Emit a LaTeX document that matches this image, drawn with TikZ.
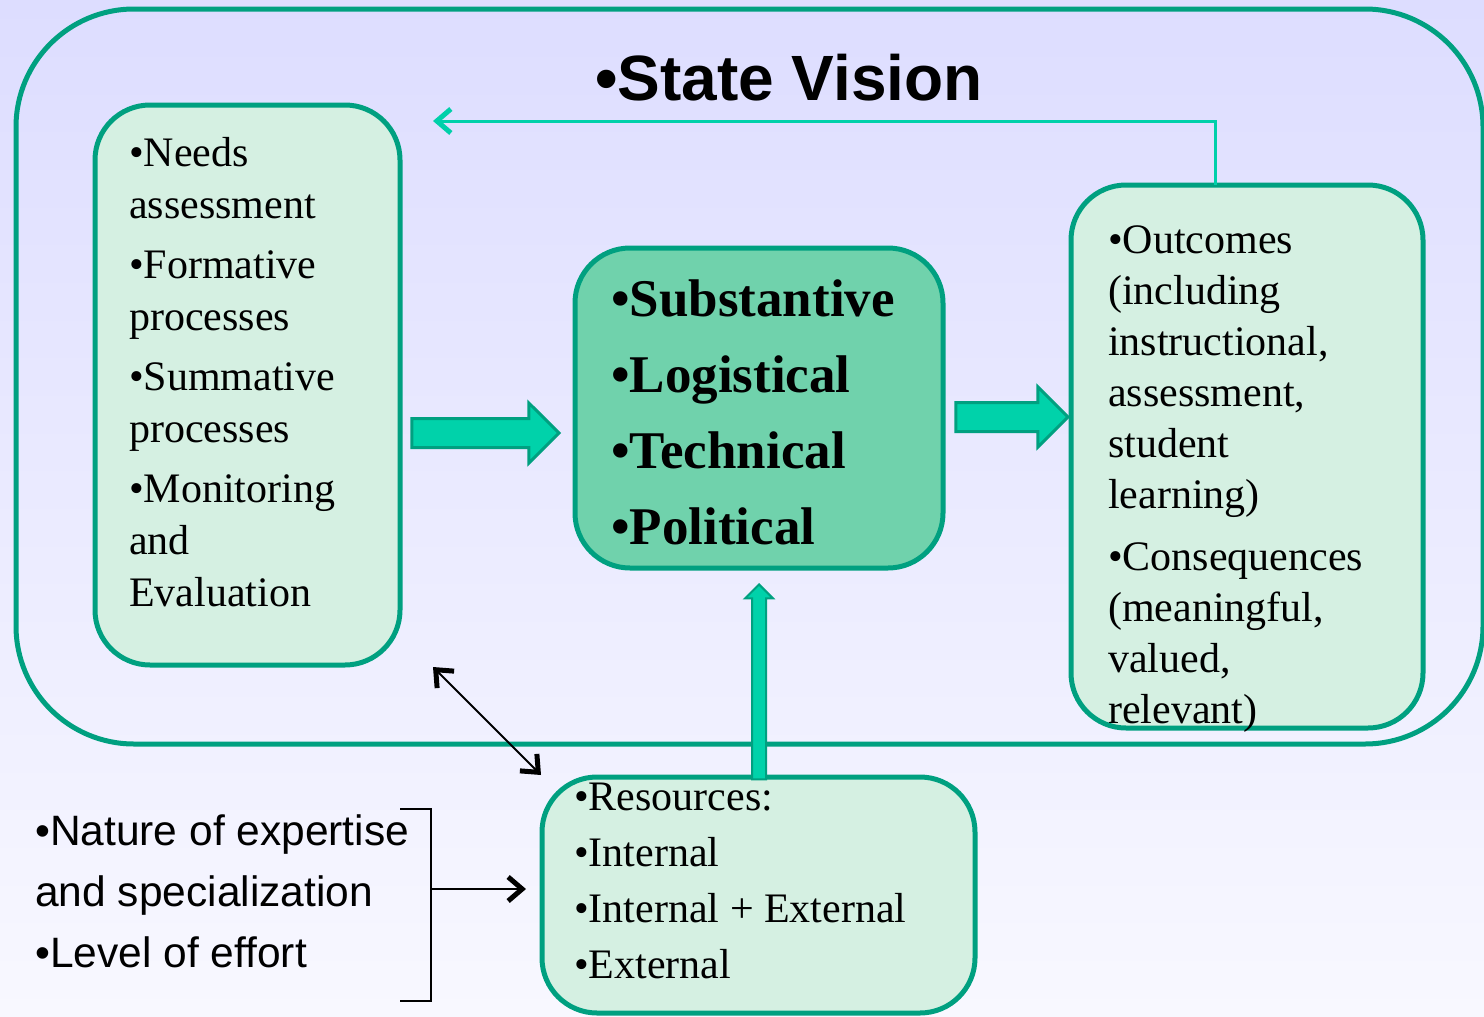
\documentclass[tikz,border=0pt]{standalone}
\usepackage{fontspec}
\setmainfont{Liberation Serif}
\setsansfont{Liberation Sans}
\usetikzlibrary{arrows.meta,shapes.arrows}

\definecolor{rimgreen}{RGB}{0,160,128}
\definecolor{panelfill}{RGB}{213,240,226}
\definecolor{corefill}{RGB}{112,210,172}
\definecolor{arrowfill}{RGB}{0,210,170}
\definecolor{feedcol}{RGB}{0,208,170}
\definecolor{bgtop}{RGB}{221,221,255}
\definecolor{bgbot}{RGB}{248,248,255}

\begin{document}
\begin{tikzpicture}
  [x=1pt,y=-1pt,
   >={Straight Barb[length=14pt,width=24pt,line width=5pt]},
   panel/.style={draw=rimgreen,line width=5pt,fill=panelfill,rounded corners=55pt,anchor=north west,outer sep=0pt},
   items/.style={inner sep=0pt,anchor=north west,align=left,font=\fontsize{42}{52}\selectfont},
   fatarrow/.style={single arrow,draw=rimgreen,line width=3pt,fill=arrowfill,inner sep=13pt,
     single arrow head extend=15.5pt,minimum height=#1,anchor=tip}]

  \useasboundingbox (0,0) rectangle (1484,1017);
  \shade[top color=bgtop,bottom color=bgbot] (0,0) rectangle (1484,1017);

  % outer frame and the four boxes
  \node[draw=rimgreen,line width=5pt,rounded corners=118pt,anchor=north west,outer sep=0pt,
    minimum width=1467pt,minimum height=735pt] (frame) at (16,9) {};
  \node[panel,minimum width=305pt,minimum height=560pt] (needs) at (95,105) {};
  \node[panel,fill=corefill,minimum width=368pt,minimum height=320pt] (core) at (575,248) {};
  \node[panel,minimum width=352pt,minimum height=543pt] (outcomes) at (1071,185) {};
  \node[panel,minimum width=433pt,minimum height=236pt] (resources) at (542,777) {};

  \node[anchor=base,font=\sffamily\bfseries\fontsize{64}{77}\selectfont] (vision) at (789,100) {•State Vision};

  \node[items] (needstext) at (129,137)
    {•Needs\\assessment\\[8pt]•Formative\\processes\\[8pt]•Summative\\processes\\[8pt]•Monitoring\\and\\Evaluation};
  \node[items,font=\bfseries\fontsize{53}{76}\selectfont] (coretext) at (611,280)
    {•Substantive\\•Logistical\\•Technical\\•Political};
  \node[items,font=\fontsize{42}{51}\selectfont] (outtext) at (1108,225)
    {•Outcomes\\(including\\instructional,\\assessment,\\student\\learning)\\[11pt]•Consequences\\(meaningful,\\valued,\\relevant)};
  \node[items,font=\fontsize{42}{56}\selectfont] (restext) at (574,783)
    {•Resources:\\•Internal\\•Internal + External\\•External};
  \node[items,font=\sffamily\fontsize{42.5}{61}\selectfont] (expertise) at (35,814)
    {•Nature of expertise\\and specialization\\•Level of effort};

  % block arrows
  \node[fatarrow=147pt] (toCore) at (561,433) {};
  \node[fatarrow=112pt] (toOut) at (1070,417) {};
  \node[fatarrow=195pt,rotate=90,line width=2pt,inner sep=6pt,single arrow head extend=7pt] (fromRes) at (759,583) {};

  % feedback and side links
  \coordinate (back) at (433,121);
  \draw[->,feedcol,line width=3pt] ([xshift=-32pt]outcomes.north) |- (back);

  \coordinate (dA) at (433,667);
  \coordinate (dB) at (541,775);
  \draw[<->,line width=2pt] (dA) -- (dB);

  \draw[line width=2pt] (400,809) -| (431,1001) -- (400,1001);
  \coordinate (brk) at (431,889);
  \draw[->,line width=2pt,shorten >=16pt] (brk) -- (brk -| resources.west);

\end{tikzpicture}
\end{document}
